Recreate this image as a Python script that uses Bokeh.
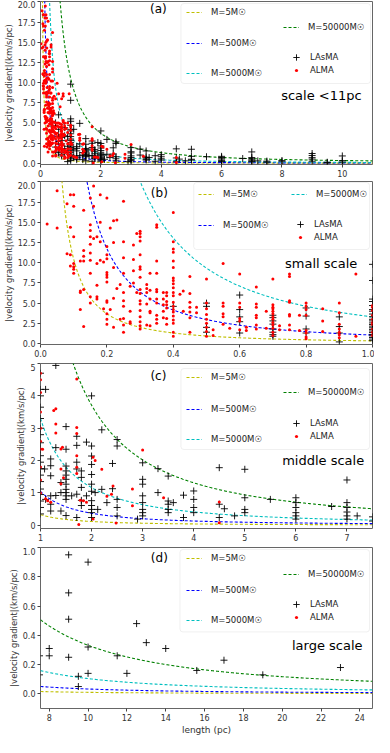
import numpy as np
from bokeh.plotting import figure
from bokeh.layouts import column
from bokeh.models import (Range1d, FixedTicker, PrintfTickFormatter, Legend,
                          LegendItem, BoxAnnotation, Label)
from bokeh.embed import file_html
from bokeh.resources import INLINE

FONT = "DejaVu Sans"

# ---------------- data ----------------
mass_labels = ["M=5M☉", "M=500M☉", "M=5000M☉", "M=50000M☉"]
curve_amp_1pc = [0.33, 1.05, 3.3, 10.5]      # gradient at 1 pc
curve_slope = -1.5
curve_colors = ["#bfbf00", "#0000ff", "#00bfbf", "#008000"]

lasma_len = [
    0.4,
    *[0.5] * 4,
    *[0.6] * 5,
    *[0.7] * 8,
    *[0.8] * 4,
    *[0.9] * 4,
    *[1.0] * 23,
    1.08, 1.1, 1.1,
    *[1.2] * 6,
    *[1.3] * 3,
    *[1.4] * 3,
    *[1.5] * 12,
    1.61,
    *[1.71] * 6,
    *[1.8] * 5,
    1.9, 1.9,
    *[2.0] * 12,
    2.07, 2.12, 2.2, 2.2, 2.3, 2.41, 2.41,
    *[2.5] * 5,
    2.9,
    *[3.0] * 8,
    3.3, 3.3,
    *[3.5] * 5,
    3.6, 3.8, 3.8,
    *[4.0] * 4,
    4.5, 4.5, 4.5, 4.6, 4.8,
    *[5.0] * 4,
    5.5,
    *[6.0] * 6,
    6.7,
    *[7.0] * 6,
    7.2, 7.5, 7.5, 8.0, 8.0,
    *[9.0] * 5,
    9.5, 9.5,
    10.0, 10.0, 10.0,
    11.5, 12.0, 12.5, 13.0, 14.0, 15.6, 17.0, 19.0, 23.0,
]
lasma_grad = [
    4.6,
    5.0, 4.6, 2.0, 1.4,
    6.0, 4.2, 3.3, 2.7, 1.3,
    3.5, 3.2, 2.8, 2.4, 1.8, 1.4, 1.1, 0.9,
    4.4, 3.4, 1.8, 1.3,
    3.3, 2.1, 1.3, 0.2,
    9.8, 7.8, 5.5, 5.2, 4.7, 4.2, 4.0, 3.65, 3.3, 3.0, 2.8, 2.55, 2.35, 2.15,
    1.95, 1.75, 1.55, 1.35, 1.12, 0.95, 0.75, 0.55, 0.35,
    1.74, 4.2, 0.8,
    2.05, 1.84, 1.53, 0.91, 0.65, 0.44,
    4.94, 2.4, 0.92,
    1.32, 1.01, 0.44,
    3.05, 2.35, 1.83, 1.68, 1.55, 1.42, 1.27, 1.11, 1.01, 0.91, 0.8, 0.3,
    0.91,
    2.75, 2.47, 1.95, 1.74, 0.96, 0.24,
    1.68, 1.48, 1.17, 0.77, 0.61,
    2.57, 0.91,
    4.0, 2.45, 2.14, 1.88, 1.57, 1.27, 1.05, 0.76, 0.61, 0.49, 0.39, 0.24,
    1.01, 0.49, 2.95, 1.11, 0.7, 1.91, 1.13,
    2.65, 2.45, 0.8, 0.55, 0.29,
    0.19,
    1.93, 1.42, 1.27, 0.91, 0.7, 0.49, 0.39, 0.29,
    1.75, 1.01,
    1.52, 0.75, 0.65, 0.49, 0.39,
    0.7, 0.93, 0.24,
    1.06, 0.8, 0.55, 0.39,
    1.78, 0.65, 0.24, 0.51, 0.29,
    1.73, 0.85, 0.49, 0.39,
    0.8,
    0.85, 0.7, 0.55, 0.39, 0.29, 0.19,
    0.58,
    1.4, 0.7, 0.55, 0.41, 0.29, 0.19,
    0.29, 0.26, 0.13, 0.31, 0.26,
    1.2, 0.95, 0.69, 0.51, 0.25,
    0.12, 0.05,
    0.9, 0.32, 0.14,
    0.26, 0.14, 0.48, 0.35, 0.31, 0.16, 0.23, 0.13, 0.18,
]

alma_len = [
    0.02,
    *[0.05] * 2,
    *[0.08] * 2,
    *[0.09] * 4,
    *[0.10] * 7,
    *[0.12] * 4,
    *[0.13] * 6,
    *[0.15] * 10,
    *[0.16] * 3,
    *[0.17] * 5,
    *[0.18] * 4,
    *[0.19] * 2,
    *[0.20] * 13,
    *[0.21] * 2,
    *[0.22] * 5,
    *[0.23] * 2,
    *[0.24] * 2,
    *[0.25] * 10,
    *[0.27] * 4,
    *[0.28] * 4,
    *[0.29] * 2,
    *[0.30] * 17,
    *[0.32] * 5,
    *[0.33] * 6,
    *[0.35] * 11,
    *[0.37] * 5,
    *[0.38] * 7,
    *[0.40] * 21,
    0.42,
    *[0.43] * 2,
    *[0.45] * 7,
    *[0.47] * 2,
    *[0.50] * 9,
    *[0.52] * 2,
    *[0.55] * 6,
    0.57,
    *[0.60] * 6,
    *[0.62] * 2,
    *[0.65] * 7,
    *[0.68] * 2,
    *[0.70] * 13,
    *[0.72] * 2,
    *[0.75] * 8,
    *[0.78] * 2,
    *[0.80] * 8,
    *[0.85] * 3,
    *[0.90] * 7,
    *[0.95] * 2,
    *[1.00] * 10,
    1.04, 1.10, 1.14, 1.20, 1.26,
    *[1.30] * 3,
    *[1.40] * 3, 1.43, 1.45,
    *[1.71] * 6,
    1.75, 1.78, 1.84, 1.90,
    2.03, 2.03, 2.07, 2.2, 2.3, 2.39, 2.42, 2.48,
    2.8, 2.8, 3.0, 3.41, 4.5, 4.5,
]
alma_grad = [
    14.8,
    14.3, 18.9,
    17.3, 11.1,
    18.4, 14.4, 11.0, 9.6,
    18.4, 17.0, 13.2, 9.9, 9.5, 9.2, 8.7,
    10.2, 6.5, 4.2, 6.3,
    16.5, 11.5, 10.8, 10.2, 2.1, 6.7,
    18.0, 14.7, 14.0, 13.2, 12.3, 11.2, 10.3, 8.7, 5.0, 5.8,
    19.5, 17.0, 13.0,
    13.2, 7.2, 5.8, 5.5, 9.9,
    18.4, 10.3, 15.0, 12.6,
    10.1, 4.3,
    18.0, 12.0, 11.0, 10.5, 8.8, 8.5, 8.2, 7.6, 5.3, 5.1, 3.7, 3.0, 2.4,
    14.3, 4.2,
    15.2, 12.5, 9.4, 5.6, 2.0,
    15.3, 6.8,
    7.3, 3.0,
    17.6, 12.6, 10.6, 8.7, 6.3, 5.3, 4.6, 3.1, 2.3, 1.4,
    7.1, 4.0, 2.5, 2.7,
    12.2, 10.4, 9.0, 7.5,
    13.6, 6.3,
    13.9, 13.6, 13.2, 12.7, 11.0, 9.5, 9.2, 8.2, 6.7, 6.2, 5.3, 4.9, 4.1, 3.3, 2.7, 2.2, 1.8,
    7.3, 6.8, 6.3, 4.9, 2.3,
    8.7, 6.6, 5.5, 4.0, 3.8, 2.2,
    14.7, 14.4, 10.2, 8.7, 6.7, 6.4, 5.5, 5.0, 3.5, 3.0, 2.5,
    6.3, 5.5, 4.8, 4.0, 3.2,
    6.3, 5.9, 5.2, 4.8, 4.4, 3.1, 2.4,
    16.2, 12.6, 11.7, 11.3, 10.2, 9.4, 8.1, 7.8, 7.4, 6.9, 6.3, 5.9, 5.1, 4.6, 4.2,
    3.9, 3.4, 2.9, 2.5, 1.4, 0.9,
    6.1,
    6.5, 4.0,
    8.3, 6.2, 5.1, 4.5, 3.9, 3.2, 1.4,
    4.5, 3.8,
    8.0, 5.0, 4.3, 3.6, 3.0, 2.5, 2.0, 1.5, 0.9,
    1.7, 1.0,
    9.9, 5.0, 4.6, 3.7, 3.3, 2.4,
    1.9,
    8.6, 5.0, 4.5, 3.1, 2.8, 1.7,
    2.0, 1.6,
    7.0, 4.9, 4.5, 3.5, 3.2, 2.3, 1.8,
    1.9, 4.0,
    8.0, 4.8, 4.5, 4.3, 4.0, 3.7, 3.3, 3.0, 2.6, 2.3, 1.9, 1.4, 1.0,
    1.7, 2.2,
    8.6, 8.3, 5.3, 5.1, 3.6, 3.4, 2.3, 1.7,
    3.5, 1.6,
    5.0, 4.6, 4.2, 3.5, 1.6, 1.3, 0.8, 0.6,
    2.8, 4.3, 1.5,
    5.0, 3.8, 2.4, 1.8, 1.4, 1.1, 0.7,
    8.6, 0.9,
    4.7, 4.5, 4.1, 3.5, 3.0, 2.6, 2.36, 1.8, 1.4, 1.0,
    2.35, 0.82, 0.76, 0.71, 3.55,
    3.6, 3.13, 2.85,
    2.36, 1.74, 1.28, 2.41, 1.47,
    4.52, 3.02, 2.84, 2.15, 1.79, 1.6,
    0.02, 0.77, 0.76, 0.71,
    2.1, 0.19, 2.0, 1.73, 0.9, 0.96, 1.21, 0.07,
    1.12, 0.6, 2.33, 0.85, 0.72, 0.08,
]
assert len(lasma_len) == len(lasma_grad)
assert len(alma_len) == len(alma_grad)

panel_tags = ["(a)", "(b)", "(c)", "(d)"]
panel_notes = ["scale <11pc", "small scale", "middle scale", "large scale"]
x_ranges = [(0, 11), (0, 1), (1, 7.5), (7.55, 24.65)]
y_ranges = [(-0.16, 20.05), (-0.12, 20.05), (-0.1, 5.0), (-0.1, 1.0)]
x_ticks = [[0, 2, 4, 6, 8, 10], [0, 0.2, 0.4, 0.6, 0.8, 1.0],
           [1, 2, 3, 4, 5, 6, 7], [8, 10, 12, 14, 16, 18, 20, 22, 24]]
y_ticks = [[0, 2.5, 5, 7.5, 10, 12.5, 15, 17.5, 20],
           [0, 2.5, 5, 7.5, 10, 12.5, 15, 17.5, 20],
           [0, 1, 2, 3, 4, 5], [0, 0.2, 0.4, 0.6, 0.8, 1.0]]
x_fmt = ["%d", "%.1f", "%d", "%d"]
y_fmt = ["%.1f", "%.1f", "%d", "%.1f"]
curves_in_panel = [[0, 1, 2, 3], [0, 1, 2], [0, 1, 2, 3], [0, 1, 2, 3]]

# ---------------- layout (page pixels) ----------------
WIDTH = 374
BL, BR = 34, 2
fig_heights = [181, 182, 184, 190]
border_top = [1, 0, 0, 0]
border_bottom = [17, 19, 19, 26]

# legend entries: (key, glyph-left x, centre y) in page pixels
legend_layout = [
    [(0, 188, 20), (3, 285, 35), (1, 188, 51), ("L", 290, 65), (2, 188, 81), ("A", 290, 79)],
    [(0, 200, 202), (2, 293, 202), (1, 200, 233), ("L", 294, 232), ("A", 294, 246)],
    [(0, 188, 385), (3, 285, 400), (1, 188, 417), ("L", 290, 431), (2, 188, 447), ("A", 290, 445)],
    [(0, 188, 569), (3, 285, 585), (1, 188, 601), ("L", 290, 615), (2, 188, 631), ("A", 290, 629)],
]
legend_boxes = [(185, 11, 378, 91), (198, 190, 377, 257), (185, 376, 377, 457), (184, 557, 377, 641)]
tag_pos = [(162, 16), (163, 200), (162, 383), (163, 566)]
note_pos = [(287, 103), (291, 271), (288, 468), (298, 655)]

figs = []
page_top = 8
for i in range(4):
    h = fig_heights[i]
    ft = page_top + border_top[i]
    fb = page_top + h - border_bottom[i]
    fl = 8 + BL
    fr = 8 + WIDTH - BR
    x0, x1 = x_ranges[i]
    y0, y1 = y_ranges[i]

    def to_data(X, Y, fl=fl, fr=fr, ft=ft, fb=fb, x0=x0, x1=x1, y0=y0, y1=y1):
        return (x0 + (X - fl) / (fr - fl) * (x1 - x0),
                y1 - (Y - ft) / (fb - ft) * (y1 - y0))

    p = figure(width=WIDTH, height=h, x_range=Range1d(x0, x1), y_range=Range1d(y0, y1),
               output_backend="svg", toolbar_location=None,
               min_border_left=BL, min_border_right=BR,
               min_border_top=border_top[i], min_border_bottom=border_bottom[i])
    p.xgrid.visible = False
    p.ygrid.visible = False
    p.outline_line_color = "#666666"
    p.background_fill_color = "white"

    p.xaxis.ticker = FixedTicker(ticks=x_ticks[i])
    p.yaxis.ticker = FixedTicker(ticks=y_ticks[i])
    p.xaxis.formatter = PrintfTickFormatter(format=x_fmt[i])
    p.yaxis.formatter = PrintfTickFormatter(format=y_fmt[i])
    for ax in (p.xaxis, p.yaxis):
        ax.major_label_text_font = FONT
        ax.major_label_text_font_size = "8px"
        ax.major_label_text_color = "#333333"
        ax.major_tick_out = 3
        ax.major_tick_in = 0
        ax.minor_tick_out = 0
        ax.minor_tick_in = 0
        ax.axis_line_color = None
        ax.major_tick_line_color = "#444444"
        ax.major_label_standoff = 2
        ax.axis_label_text_font = FONT
        ax.axis_label_text_font_style = "normal"
        ax.axis_label_text_color = "#333333"
    p.yaxis.axis_label = "|velocity gradient|(km/s/pc)"
    p.yaxis.axis_label_text_font_size = "8.5px"
    p.yaxis.axis_label_standoff = 1
    if i == 3:
        p.xaxis.axis_label = "length (pc)"
        p.xaxis.axis_label_text_font_size = "9px"
        p.xaxis.axis_label_standoff = 1

    # model curves
    xs = np.linspace(max(x0, 0.005), x1, 600)
    curve_r = {}
    for k in curves_in_panel[i]:
        ys = curve_amp_1pc[k] * xs ** curve_slope
        curve_r[k] = p.line(xs, ys, line_color=curve_colors[k], line_dash="3 2", line_width=1.1)

    r_l = p.scatter(lasma_len, lasma_grad, marker="cross", size=7,
                    line_color="black", line_width=0.9)
    r_a = p.scatter(alma_len, alma_grad, marker="circle", size=3,
                    fill_color="red", line_color=None)

    # legend frame
    bx0, by0, bx1, by1 = legend_boxes[i]
    dl, dt = to_data(bx0, by0)
    dr, db = to_data(bx1, by1)
    p.add_layout(BoxAnnotation(left=dl, right=dr, top=dt, bottom=db,
                               fill_color="white", fill_alpha=0.85,
                               line_color="#cccccc", line_width=1, border_radius=3))

    for key, X, Yc in legend_layout[i]:
        if key == "L":
            rend, label, gw, gh, so = r_l, "LAsMA", 16, 18, 6
        elif key == "A":
            rend, label, gw, gh, so = r_a, "ALMA", 16, 8, 6
        else:
            rend, label, gw, gh, so = curve_r[key], mass_labels[key], 16, 10, 9
        leg = Legend(items=[LegendItem(label=label, renderers=[rend])],
                     location=(X - fl, fb - (Yc + gh / 2)),
                     glyph_width=gw, glyph_height=gh, label_height=gh,
                     label_standoff=so, padding=0, margin=0, spacing=0,
                     border_line_alpha=0, background_fill_alpha=0,
                     label_text_font=FONT, label_text_font_size="8.5px",
                     label_text_color="#222222", label_text_baseline="middle")
        p.add_layout(leg)

    tx, ty = to_data(*tag_pos[i])
    p.add_layout(Label(x=tx, y=ty, text=panel_tags[i], text_font=FONT,
                       text_font_size="12px", text_align="center",
                       text_baseline="middle", text_color="black"))
    nx, ny = to_data(*note_pos[i])
    p.add_layout(Label(x=nx, y=ny, text=panel_notes[i], text_font=FONT,
                       text_font_size="13px", text_align="left",
                       text_baseline="middle", text_color="black"))

    figs.append(p)
    page_top += h

layout = column(*figs, spacing=0)
open("out.html", "w").write(file_html(layout, INLINE))
